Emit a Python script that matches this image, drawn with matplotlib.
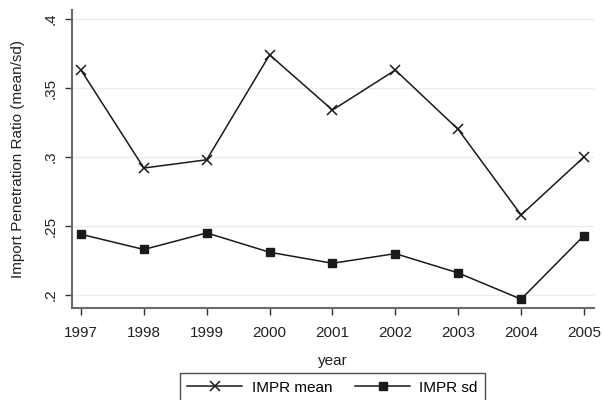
import matplotlib.pyplot as plt
import numpy as np

# Data
years = [1997, 1998, 1999, 2000, 2001, 2002, 2003, 2004, 2005]
impr_mean = [0.363, 0.292, 0.298, 0.374, 0.334, 0.363, 0.320, 0.258, 0.300]
impr_sd = [0.244, 0.233, 0.245, 0.231, 0.223, 0.230, 0.216, 0.197, 0.243]
yticks = [0.2, 0.25, 0.3, 0.35, 0.4]
ytick_labels = ['.2', '.25', '.3', '.35', '.4']

plt.rcParams['font.family'] = ['Liberation Sans', 'DejaVu Sans']
line_color = '#1a1a1a'
grid_color = '#e6eff1'
spine_color = '#6b6b6b'

fig = plt.figure(figsize=(6.03, 4.0), dpi=100, facecolor='white')
ax = fig.add_axes([72/603, 1 - 308/400, (594 - 72)/603, (308 - 10)/400])

ax.plot(years, impr_mean, color=line_color, lw=1.1, marker='x',
        ms=7, mew=1.1, label='IMPR mean')
ax.plot(years, impr_sd, color=line_color, lw=1.1, marker='s',
        ms=6, mfc=line_color, label='IMPR sd')

ax.set_xlim(1996.857, 2005.16)
ax.set_ylim(0.1906, 0.4065)
ax.set_xticks(years)
ax.set_yticks(yticks)
ax.set_yticklabels(ytick_labels, rotation=90, va='center')
ax.yaxis.grid(True, color=grid_color, lw=1.0)
ax.set_axisbelow(True)

for side in ['top', 'right']:
    ax.spines[side].set_visible(False)
for side in ['left', 'bottom']:
    ax.spines[side].set_color(spine_color)
    ax.spines[side].set_linewidth(1.5)
ax.tick_params(colors='#333333', labelsize=11, length=5, width=1.0,
               labelcolor='#222222')
ax.tick_params(axis='x', pad=8)
ax.tick_params(axis='y', pad=5)

ax.set_xlabel('year', fontsize=11, color='#222222', labelpad=10)
ax.set_ylabel('Import Penetration Ratio (mean/sd)', fontsize=11,
              color='#222222', labelpad=14)

leg = fig.legend(loc='lower center', bbox_to_anchor=(332.5/603, -0.025),
                 ncol=2, frameon=True, fancybox=False, fontsize=11,
                 handlelength=3.6, columnspacing=1.5, borderpad=0.5,
                 handletextpad=0.6)
leg.get_frame().set_edgecolor('#222222')
leg.get_frame().set_linewidth(1.0)

plt.savefig('out.png', dpi=100, facecolor='white')
